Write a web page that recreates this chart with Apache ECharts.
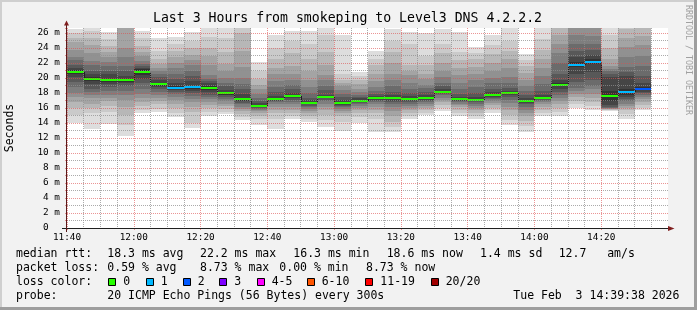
<!DOCTYPE html>
<html>
<head>
<meta charset="utf-8">
<script src="https://cdn.jsdelivr.net/npm/echarts@6/dist/echarts.min.js"></script>
<style>
html,body{margin:0;padding:0;background:#f2f2f2;}
#chart{width:697px;height:310px;}
</style>
</head>
<body>
<div id="chart"></div>
<script>
// ---------------- data ----------------
const titleText = 'Last 3 Hours from smokeping to Level3 DNS 4.2.2.2';
const axisStart = '11:40';
const axisEnd = '14:40';
const stepMin = 5;
const colStart = ['11:40','11:45','11:50','11:55','12:00','12:05','12:10','12:15','12:20','12:25',
  '12:30','12:35','12:40','12:45','12:50','12:55','13:00','13:05','13:10','13:15',
  '13:20','13:25','13:30','13:35','13:40','13:45','13:50','13:55','14:00','14:05',
  '14:10','14:15','14:20','14:25','14:30'];
// median rtt (ms) per 5-minute step
const medians = [20.8,19.9,19.7,19.7,20.8,19.2,18.7,18.8,18.7,18.0,
  17.2,16.3,17.2,17.6,16.7,17.5,16.7,17.0,17.3,17.3,
  17.2,17.3,18.2,17.2,17.1,17.7,18.0,17.0,17.3,19.1,
  21.8,22.2,17.6,18.2,18.6];
// lost pings (of 20) per step
const lostPings = [0,0,0,0,0,0,1,1,0,0, 0,0,0,0,0,0,0,0,0,0, 0,0,0,0,0,0,0,0,0,0, 1,1,0,1,2];
// sorted ping rtts (ms) per step – the smoke
const pings = [
  [13.95,15.07,15.96,16.84,17.5,17.95,18.8,19.5,20.2,20.5,21.1,21.3,21.7,22.4,22.84,23.7,24.8,25.3,25.95,26.6],
  [13.2,15.3,15.96,16.6,17.3,17.7,18.2,18.6,19.2,19.6,20.2,20.5,21.0,21.7,22.3,23.3,24.4,25.3,26.3,27.5],
  [13.9,15.5,16.3,16.9,17.4,17.8,18.3,18.8,19.2,19.5,19.9,20.5,21.0,21.6,22.2,22.8,23.5,24.3,25.2,26.1],
  [12.3,13.7,15.1,16.2,17.1,17.7,18.3,18.9,19.3,19.5,19.9,20.3,20.9,21.6,22.8,24.0,27.5,28.5,29.5,31.0],
  [15.3,15.8,16.3,16.8,17.3,17.9,18.6,19.4,19.9,20.4,21.2,21.4,21.6,21.9,22.3,22.9,23.5,24.3,25.3,26.3],
  [15.5,15.9,16.5,16.9,17.4,17.8,18.2,18.5,18.8,19.0,19.4,19.8,20.2,20.6,21.0,21.4,21.9,22.6,23.6,25.3],
  [14.8,15.4,16.0,16.6,17.1,17.5,17.9,18.2,18.4,18.5,18.9,19.4,19.9,20.5,21.3,22.0,22.8,23.6,24.5,25.5],
  [13.3,14.0,15.5,16.2,16.8,17.2,17.6,18.0,18.3,18.6,19.0,19.6,20.3,21.0,21.8,22.4,23.1,24.0,25.0,26.2],
  [15.0,15.5,16.0,16.4,16.8,17.2,17.5,17.8,18.1,18.4,19.0,19.3,19.6,19.9,20.4,21.7,23.0,24.0,25.5,27.5],
  [15.2,15.5,15.9,16.3,16.6,16.9,17.2,17.5,17.7,17.8,18.2,18.4,18.9,19.4,20.0,20.9,21.9,23.5,25.3,27.5],
  [14.4,14.8,15.2,15.6,15.9,16.2,16.5,16.7,16.9,17.0,17.4,17.9,18.5,19.2,20.0,21.5,23.6,26.0,27.5,29.0],
  [13.8,14.5,14.9,15.3,15.6,15.8,15.9,16.0,16.1,16.2,16.4,16.7,17.0,17.4,17.9,18.5,19.1,19.9,21.0,22.2],
  [13.2,14.6,15.3,15.8,16.2,16.5,16.8,16.9,17.0,17.1,17.3,17.6,18.1,18.8,19.6,20.5,21.4,22.5,24.0,25.7],
  [14.5,14.9,15.3,15.7,16.1,16.5,16.8,17.1,17.3,17.5,17.7,18.0,18.5,19.1,19.8,20.6,21.6,23.3,25.0,26.3],
  [14.2,14.6,15.0,15.3,15.6,15.9,16.1,16.3,16.5,16.6,16.8,17.1,17.4,18.0,18.8,19.8,21.0,22.6,24.5,26.3],
  [13.5,14.4,15.1,15.7,16.2,16.6,16.9,17.1,17.3,17.4,17.6,17.8,18.4,19.0,19.7,20.4,21.7,23.5,25.7,27.3],
  [13.0,14.2,14.9,15.3,15.6,15.9,16.1,16.3,16.4,16.5,16.8,17.1,17.5,17.9,18.4,19.0,19.3,19.8,20.5,25.7],
  [14.0,14.8,15.3,15.7,16.0,16.3,16.5,16.7,16.8,16.9,17.1,17.3,17.5,17.8,18.2,18.6,19.2,19.8,20.3,20.8],
  [12.8,14.5,15.3,15.8,16.2,16.5,16.8,17.0,17.1,17.2,17.4,17.6,17.9,18.3,18.8,19.6,20.6,21.7,22.6,23.6],
  [12.8,13.5,14.2,15.0,15.6,16.1,16.5,16.8,17.0,17.2,17.4,17.7,18.2,18.9,19.7,20.6,22.0,23.5,25.0,26.5],
  [14.6,15.0,15.4,15.7,16.0,16.3,16.6,16.8,17.0,17.1,17.3,17.6,18.0,18.5,19.4,20.4,21.0,21.7,24.5,26.2],
  [15.1,15.4,15.7,16.0,16.3,16.6,16.8,17.0,17.1,17.2,17.4,17.7,18.2,18.7,19.1,19.9,20.6,21.7,23.0,26.0],
  [15.6,16.0,16.4,16.8,17.1,17.4,17.7,17.9,18.0,18.1,18.3,18.5,18.9,19.4,20.1,21.0,22.0,23.3,24.5,26.6],
  [15.0,15.4,15.8,16.1,16.4,16.6,16.8,16.9,17.0,17.1,17.3,17.5,17.9,18.5,19.3,20.4,21.4,22.4,23.5,26.2],
  [14.5,14.9,15.3,15.7,16.0,16.3,16.6,16.8,16.9,17.0,17.2,17.5,18.0,18.8,19.7,20.6,21.5,22.6,23.4,24.1],
  [15.3,15.7,16.0,16.4,16.7,17.0,17.2,17.4,17.5,17.6,17.8,18.1,18.6,19.3,20.0,21.0,22.0,23.2,24.4,25.7],
  [13.7,14.4,15.1,15.7,16.2,16.7,17.1,17.5,17.7,17.9,18.1,18.3,18.7,19.3,20.2,21.3,22.5,23.6,25.0,26.7],
  [12.8,13.6,14.3,14.9,15.4,15.8,16.2,16.5,16.7,16.9,17.1,17.4,17.8,18.3,19.0,19.8,20.7,21.6,22.4,23.2],
  [15.0,15.4,15.8,16.2,16.5,16.8,17.0,17.1,17.2,17.3,17.4,17.7,18.3,19.2,20.3,21.4,22.6,23.8,25.2,27.2],
  [15.0,15.5,16.0,16.5,17.0,17.4,17.8,18.2,18.6,18.9,19.3,19.7,20.6,22.0,23.4,24.6,25.8,27.0,28.3,30.0],
  [16.0,16.5,17.0,17.5,17.9,18.3,18.7,19.5,20.6,21.5,22.1,22.8,23.6,24.6,25.7,27.3,28.5,29.5,30.5,31.5],
  [15.8,16.3,16.8,17.3,17.9,18.5,19.0,19.8,20.8,21.9,22.5,23.1,23.8,24.6,25.6,27.0,28.2,29.2,30.2,31.2],
  [15.6,15.7,15.8,15.85,15.9,15.95,16.05,16.2,16.4,16.9,18.3,20.2,20.6,20.9,21.2,21.6,22.6,24.0,25.7,27.2],
  [14.6,15.2,15.7,16.0,16.3,16.6,16.9,17.2,17.5,17.8,18.6,20.3,20.8,21.5,22.8,24.2,25.4,26.6,28.0,29.0],
  [15.7,16.0,16.4,16.8,17.2,17.5,17.8,18.0,18.2,18.4,18.8,19.4,20.3,21.6,23.0,24.4,25.6,26.8,28.2,29.5]
];
const yMaxMs = 26.667;
const lossLabels = ['0','1','2','3','4-5','6-10','11-19','20/20'];
const lossColors = ['#26ff00','#00b8ff','#0059ff','#7e00ff','#ff00ff','#ff5500','#ff0000','#a10000'];
const rttLabel = 'median rtt:';
const rttStats = ['18.3 ms avg','22.2 ms max','16.3 ms min','18.6 ms now','1.4 ms sd','12.7   am/s'];
const lossLabel = 'packet loss:';
const lossStats = ['0.59 % avg','8.73 % max','0.00 % min','8.73 % now'];
const lossColorLabel = 'loss color:';
const probeLabel = 'probe:';
const probeText = '20 ICMP Echo Pings (56 Bytes) every 300s';
const stampText = 'Tue Feb  3 14:39:38 2026';
const yAxisName = 'Seconds';
const creditText = 'RRDTOOL / TOBI OETIKER';

// ---------------- helpers / styles ----------------
const MONO = '"DejaVu Sans Mono", "Liberation Mono", monospace';
const toMin = s => { const p = s.split(':').map(Number); return p[0] * 60 + p[1]; };
const fmtTime = v => { const h = Math.floor(v / 60), m = Math.round(v - h * 60);
  return String(h).padStart(2, '0') + ':' + String(m).padStart(2, '0'); };
const lossClass = n => n <= 3 ? n : n <= 5 ? 4 : n <= 10 ? 5 : n <= 19 ? 6 : 7;
const MGRID = 'rgba(222,79,79,0.6)';
const GRID = 'rgba(143,143,143,0.75)';
const xMin = toMin(axisStart), xMax = toMin(axisEnd);

const seriesData = colStart.map((t, i) => [toMin(t), toMin(t) + stepMin, medians[i], i]);

function smokeItem(params, api) {
  const i = api.value(3);
  const t0 = api.value(0), t1 = api.value(1);
  const p = pings[i];
  const children = [];
  for (let l = 0; l < 10; l++) {
    const a = api.coord([t0, p[19 - l]]);
    const b = api.coord([t1, p[l]]);
    const x0 = Math.round(a[0]), x1 = Math.round(b[0]);
    const y0 = Math.round(a[1]), y1 = Math.round(b[1]);
    const r = echarts.graphic.clipRectByRect({x: x0, y: y0, width: x1 - x0, height: y1 - y0}, params.coordSys);
    if (r) {
      const g = 19 * (9 - l) + 50;
      children.push({type: 'rect', shape: r, style: {fill: 'rgb(' + g + ',' + g + ',' + g + ')'}});
    }
  }
  return {type: 'group', children};
}

function medianItem(params, api) {
  const i = api.value(3);
  const t0 = api.value(0), t1 = api.value(1);
  const m = api.value(2);
  const a = api.coord([t0, m]);
  const b = api.coord([t1, m]);
  const children = [];
  if (i > 0) {
    const prev = api.coord([t0, medians[i - 1]]);
    const xs = Math.round(a[0]) + 0.5;
    children.push({type: 'line', shape: {x1: xs, y1: Math.round(prev[1]), x2: xs, y2: Math.round(a[1])},
      style: {stroke: '#202020', lineWidth: 1}});
  }
  const x0 = Math.round(a[0]), x1 = Math.round(b[0]);
  const yc = Math.round(a[1]);
  children.push({type: 'rect', shape: {x: x0, y: yc - 1, width: x1 - x0, height: 2},
    style: {fill: lossColors[lossClass(lostPings[i])]}});
  return {type: 'group', children};
}

// ---------------- static text graphics ----------------
const graphics = [
  {type: 'rect', silent: true, shape: {x: 0, y: 0, width: 697, height: 2}, style: {fill: '#cfcfcf'}},
  {type: 'rect', silent: true, shape: {x: 0, y: 0, width: 2, height: 310}, style: {fill: '#cfcfcf'}},
  {type: 'rect', silent: true, shape: {x: 694, y: 0, width: 3, height: 310}, style: {fill: '#9e9e9e'}},
  {type: 'rect', silent: true, shape: {x: 0, y: 307, width: 697, height: 3}, style: {fill: '#9e9e9e'}},
  {type: 'text', x: 347.5, y: 19, style: {text: titleText, fill: '#000', fontFamily: MONO, fontSize: 13.2,
    align: 'center', verticalAlign: 'middle'}},
  {type: 'text', x: 10.5, y: 128, rotation: Math.PI / 2, style: {text: yAxisName, fill: '#000', fontFamily: MONO,
    fontSize: 11.5, align: 'center', verticalAlign: 'middle'}},
  {type: 'text', x: 688.5, y: 60, rotation: -Math.PI / 2, style: {text: creditText, fill: '#a0a0a0', fontFamily: MONO,
    fontSize: 8.3, align: 'center', verticalAlign: 'middle'}}
];
function addText(txt, x, y) {
  graphics.push({type: 'text', x: x, y: y, style: {text: txt, fill: '#000', fontFamily: MONO, fontSize: 11.5,
    align: 'left', verticalAlign: 'middle'}});
}
const row = [254.5, 268.5, 282.5, 296.5];
addText(rttLabel, 16, row[0]);
[107.3, 200, 293.3, 386.7, 480, 558.7].forEach((x, k) => addText(rttStats[k], x, row[0]));
addText(lossLabel, 16, row[1]);
[107.3, 200, 279.3, 366].forEach((x, k) => addText(lossStats[k], x, row[1]));
addText(lossColorLabel, 16, row[2]);
[108.3, 145.7, 182.7, 219.3, 256.7, 306.7, 365.3, 430.7].forEach((x, k) => {
  const bx = Math.round(x) + 0.5;
  graphics.push({type: 'rect', shape: {x: bx, y: 278.5, width: 7, height: 7},
    style: {fill: lossColors[k], stroke: '#000', lineWidth: 1}});
  addText(lossLabels[k], x + 15, row[2]);
});
addText(probeLabel, 16, row[3]);
addText(probeText, 107.3, row[3]);
addText(stampText, 513.3, row[3]);

// ---------------- chart ----------------
const chart = echarts.init(document.getElementById('chart'), null, {renderer: 'canvas'});
const option = {
  animation: false,
  backgroundColor: '#f2f2f2',
  grid: {left: 67, right: 29, top: 28, bottom: 82, show: true, backgroundColor: '#ffffff', borderWidth: 0},
  xAxis: {
    type: 'value', min: xMin, max: xMax, interval: 20, z: 3,
    axisLine: {show: false},
    axisTick: {show: true, length: 2, lineStyle: {color: MGRID}},
    minorTick: {show: false, splitNumber: 4},
    minorSplitLine: {show: true, lineStyle: {color: GRID, type: [1, 1], width: 1}},
    splitLine: {show: true, showMaxLine: false, lineStyle: {color: MGRID, type: [1, 1], width: 1}},
    axisLabel: {margin: 5, color: '#000', fontFamily: MONO, fontSize: 9.4,
      formatter: v => v >= xMax ? '' : fmtTime(v)}
  },
  yAxis: {
    type: 'value', min: 0, max: yMaxMs, interval: 1, z: 3,
    axisLine: {show: false},
    axisTick: {show: true, length: 2, lineStyle: {color: MGRID}},
    splitLine: {show: true, showMaxLine: false, lineStyle: {color: [MGRID, GRID], type: [1, 1], width: 1}},
    axisLabel: {margin: 7, color: '#000', fontFamily: MONO, fontSize: 9.4,
      formatter: v => {
        const r = Math.round(v);
        if (Math.abs(v - r) > 1e-6 || r % 2 !== 0) return '';
        return r === 0 ? '0  ' : r + ' m';
      }}
  },
  series: [
    {type: 'custom', z: 1, renderItem: smokeItem, data: seriesData, encode: {x: [0, 1], y: 2}, silent: true},
    {type: 'custom', z: 2, renderItem: medianItem, data: seriesData, encode: {x: [0, 1], y: 2}, silent: true}
  ],
  graphic: graphics
};
chart.setOption(option);

// axis lines and arrows placed from the axis scales
const o = chart.convertToPixel({gridIndex: 0}, [xMin, 0]);
const e = chart.convertToPixel({gridIndex: 0}, [xMax, yMaxMs]);
const ax = Math.round(o[0]) - 1, ay = Math.round(o[1]);
const axisGraphics = [
  {type: 'rect', silent: true, z: 10, shape: {x: ax - 4, y: ay, width: Math.round(e[0]) + 2 - (ax - 4), height: 1}, style: {fill: '#1f1f1f'}},
  {type: 'rect', silent: true, z: 10, shape: {x: ax, y: Math.round(e[1]) - 3, width: 1, height: ay + 4 - (Math.round(e[1]) - 3)}, style: {fill: '#5a1a1a'}},
  {type: 'polygon', silent: true, z: 11, shape: {points: [[Math.round(e[0]), ay + 0.5 - 2.5], [Math.round(e[0]) + 6.5, ay + 0.5], [Math.round(e[0]), ay + 0.5 + 2.5]]}, style: {fill: '#801f1f'}},
  {type: 'polygon', silent: true, z: 11, shape: {points: [[ax + 0.5 - 2.5, Math.round(e[1]) - 2.5], [ax + 0.5, Math.round(e[1]) - 7.5], [ax + 0.5 + 2.5, Math.round(e[1]) - 2.5]]}, style: {fill: '#801f1f'}}
];
chart.setOption({graphic: graphics.concat(axisGraphics)});
</script>
</body>
</html>
